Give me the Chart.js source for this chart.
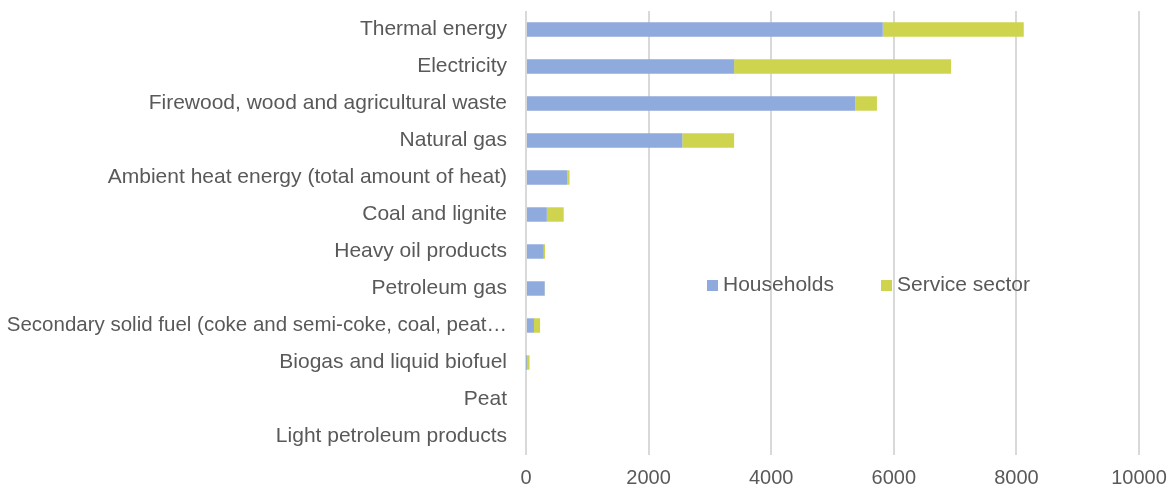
<!DOCTYPE html>
<html>
<head>
<meta charset="utf-8">
<script src="https://cdn.jsdelivr.net/npm/chart.js@4"></script>
<style>
html,body{margin:0;padding:0;background:#fff;}
#wrap{width:1172px;height:489px;position:relative;}
</style>
</head>
<body>
<div id="wrap"><canvas id="c"></canvas></div>
<script>
const categories = [
  "Thermal energy",
  "Electricity",
  "Firewood, wood and agricultural waste",
  "Natural gas",
  "Ambient heat energy (total amount of heat)",
  "Coal and lignite",
  "Heavy oil products",
  "Petroleum gas",
  "Secondary solid fuel (coke and semi-coke, coal, peat\u2026",
  "Biogas and liquid biofuel",
  "Peat",
  "Light petroleum products"
];
const households = [5820, 3395, 5370, 2550, 670, 340, 290, 305, 130, 3, 0, 0];
const serviceSector = [2300, 3540, 355, 845, 40, 275, 20, 5, 100, 55, 0, 0];
const xTicks = [0, 2000, 4000, 6000, 8000, 10000];
const seriesNames = ["Households", "Service sector"];
const seriesColors = ["#8faadc", "#ced44e"];

const legendPlugin = {
  id: 'customLegend',
  afterDraw(chart) {
    const ctx = chart.ctx;
    const pos = [{sx: 707, tx: 723}, {sx: 881, tx: 897}];
    const cy = 285.5;
    ctx.save();
    ctx.font = '21px "Liberation Sans", Arial, sans-serif';
    ctx.textBaseline = 'middle';
    ctx.textAlign = 'left';
    chart.data.datasets.forEach((ds, i) => {
      ctx.fillStyle = ds.backgroundColor;
      ctx.fillRect(pos[i].sx, cy - 5.5, 11, 11);
      ctx.fillStyle = '#595959';
      ctx.fillText(ds.label, pos[i].tx, cy);
    });
    ctx.restore();
  }
};

new Chart(document.getElementById('c'), {
  type: 'bar',
  data: {
    labels: categories,
    datasets: [
      {label: seriesNames[0], data: households, backgroundColor: seriesColors[0], barPercentage: 0.39, categoryPercentage: 1},
      {label: seriesNames[1], data: serviceSector, backgroundColor: seriesColors[1], barPercentage: 0.39, categoryPercentage: 1}
    ]
  },
  options: {
    indexAxis: 'y',
    responsive: true,
    maintainAspectRatio: false,
    animation: false,
    devicePixelRatio: 1,
    layout: {padding: {top: 11, right: 33, left: 0, bottom: 0}},
    plugins: {legend: {display: false}, tooltip: {enabled: false}},
    scales: {
      y: {
        stacked: true,
        grid: {display: false, drawTicks: false},
        border: {display: false},
        ticks: {
          color: '#595959',
          padding: 19,
          font: (c) => ({family: '"Liberation Sans", Arial, sans-serif', size: (c.tick && c.tick.label && c.tick.label.length > 45) ? 20.5 : 21})
        },
        afterFit: (s) => { s.width = 526; s.paddingTop = 0; s.paddingBottom = 0; }
      },
      x: {
        stacked: true,
        min: 0,
        max: 10000,
        afterBuildTicks: (s) => { s.ticks = xTicks.map(v => ({value: v})); },
        grid: {color: '#d9d9d9', lineWidth: 2, drawTicks: false},
        border: {display: false},
        ticks: {
          color: '#595959',
          padding: 11,
          maxRotation: 0,
          callback: (v) => String(v),
          font: {family: '"Liberation Sans", Arial, sans-serif', size: 20}
        },
        afterFit: (s) => { s.height = 34; s.paddingLeft = 0; s.paddingRight = 0; }
      }
    }
  },
  plugins: [legendPlugin]
});
</script>
</body>
</html>
